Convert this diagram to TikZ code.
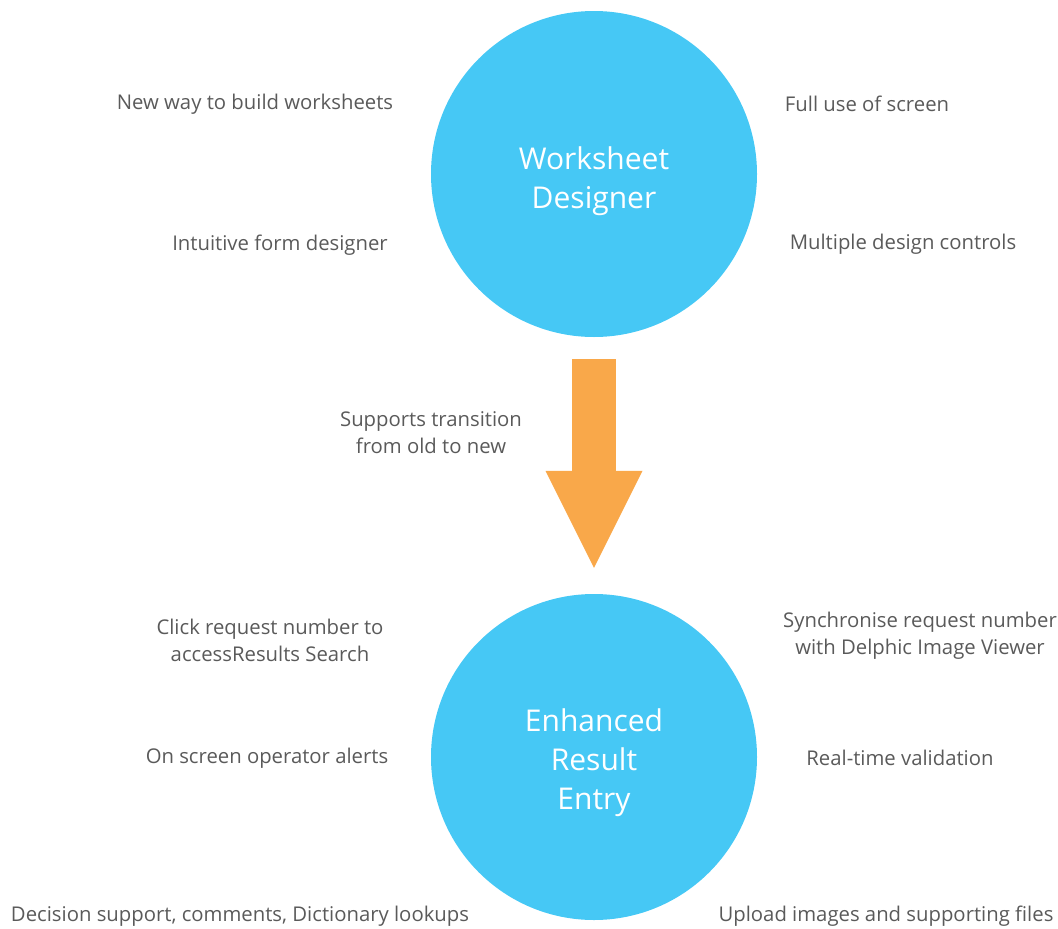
\documentclass[tikz,border=0pt]{standalone}
\usepackage{fontspec}
\setmainfont{Open Sans}
\usetikzlibrary{arrows.meta}
\definecolor{skyblue}{HTML}{46C8F5}
\definecolor{flowgold}{HTML}{F9A84A}
\definecolor{notegray}{HTML}{5A5A5A}
\tikzstyle{bubble} = [circle, 
minimum size=326pt, 
inner sep=0pt, 
text centered, align=center, 
text=white, 
fill=skyblue, 
font=\fontsize{30}{39}\selectfont]
\tikzstyle{note} = [align=center, 
inner sep=0pt, 
text=notegray, 
font=\fontsize{20.3}{27}\selectfont]
\tikzstyle{arrow} = [line width=44pt, draw=flowgold, 
-{Triangle[length=97pt, width=97pt, line width=0pt]}, 
shorten <=22pt, shorten >=26pt]

\begin{document}
\begin{tikzpicture}[node distance=300pt]
\useasboundingbox (0pt,0pt) rectangle (1058pt,-929pt);

\node (ws) [bubble] at (594pt,-174pt) {\rule{0pt}{37pt}Worksheet\\Designer};
\node (ere) [bubble, below of=ws, yshift=-283pt] {\rule{0pt}{34pt}Enhanced\\Result\\Entry};

% notes round the designer
\node (build) [note, left of=ws, xshift=-39pt, yshift=70pt] {New way to build worksheets};
\node (form) [note, left of=ws, xshift=-14pt, yshift=-71pt] {Intuitive form designer};
\node (screen) [note, right of=ws, xshift=-27pt, yshift=70pt] {Full use of screen};
\node (controls) [note, right of=ws, xshift=9pt, yshift=-70pt] {Multiple design controls};

% notes round result entry
\node (click) [note, left of=ere, xshift=-24pt, yshift=117pt] {Click request number to\\accessResults Search};
\node (alerts) [note, left of=ere, xshift=-27pt, yshift=-1pt] {On screen operator alerts};
\node (decision) [note, left of=ere, xshift=-54pt, yshift=-159pt] {Decision support, comments, Dictionary lookups};
\node (sync) [note, right of=ere, xshift=26pt, yshift=121pt] {Synchronise request number\\with Delphic Image Viewer};
\node (valid) [note, right of=ere, xshift=6pt, yshift=-1pt] {Real-time validation};
\node (upload) [note, right of=ere, xshift=-8pt, yshift=-159pt] {Upload images and supporting files};

\node (support) [note, below of=ws, xshift=-163pt, yshift=41pt] {Supports transition\\from old to new};

\draw [arrow] (ws) -- (ere);

\end{tikzpicture}
\end{document}
